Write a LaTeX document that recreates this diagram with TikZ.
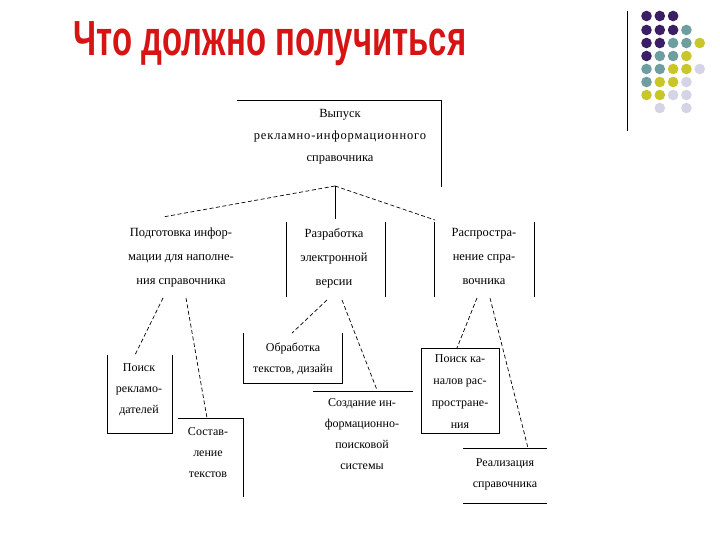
\documentclass[tikz,border=0pt]{standalone}
\usepackage{fontspec}
\setmainfont{Liberation Serif}
\newfontfamily\titlefont{Liberation Sans}
\newfontfamily\widefont[LetterSpace=7]{Liberation Serif}
\definecolor{dpurple}{RGB}{60,30,100}
\definecolor{dteal}{RGB}{110,158,160}
\definecolor{dyellow}{RGB}{200,198,40}
\definecolor{dlight}{RGB}{212,212,230}
\definecolor{titlered}{RGB}{215,20,20}
\tikzset{
  ln/.style={line width=0.8pt,black},
  dsh/.style={line width=0.7pt,black,dash pattern=on 4pt off 2.5pt},
  txt/.style={anchor=north,inner sep=0pt,align=center,font=\fontsize{12.5}{22}\selectfont},
  txtm/.style={txt,font=\fontsize{12.5}{24}\selectfont},
  txts/.style={txt,font=\fontsize{12}{21}\selectfont}
}
\begin{document}
\begin{tikzpicture}[x=1pt,y=-1pt]
\useasboundingbox (0,0) rectangle (720,540);
\fill[white] (0,0) rectangle (720,540);
% title
\node[inner sep=0pt,text=titlered] (title) at (270,44)
  {\scalebox{0.70}[1.05]{\titlefont\bfseries\fontsize{47}{47}\selectfont Что должно получиться}};
% decoration
\draw[line width=1pt] (627,11) coordinate (vt) -- (627,131) coordinate (vb);
\foreach \y/\lst in {16/{0/dpurple,1/dpurple,2/dpurple},
                     30/{0/dpurple,1/dpurple,2/dpurple,3/dteal},
                     43/{0/dpurple,1/dpurple,2/dteal,3/dteal,4/dyellow},
                     56/{0/dpurple,1/dteal,2/dteal,3/dyellow},
                     69/{0/dteal,1/dteal,2/dyellow,3/dyellow,4/dlight},
                     82/{0/dteal,1/dyellow,2/dyellow,3/dlight},
                     95/{0/dyellow,1/dyellow,2/dlight,3/dlight},
                     108/{1/dlight,3/dlight}}{
  \foreach \i/\c in \lst { \fill[\c] ({646.5+13.3*\i},\y) circle (5.3); }
}
% root
\node[txt] (root) at (340,109) {Выпуск\\{\widefont рекламно-информационного}\\справочника};
\draw[ln] (237,100) -- (441,100) -- (441,187);
\coordinate (rb) at (335,186);
% level 1
\node[txtm] (n1) at (181,228) {Подготовка инфор-\\мации для наполне-\\ния справочника};
\node[txtm] (n2) at (334,228) {Разработка\\электронной\\версии};
\node[txtm] (n3) at (484,228) {Распростра-\\нение спра-\\вочника};
\coordinate (c1) at (163,217);
\coordinate (c2) at (335,219);
\coordinate (c3) at (435,220);
\draw[dsh] (rb) -- (c1);
\draw[ln] (rb) -- (c2);
\draw[dsh] (rb) -- (c3);
\draw[ln] (286,222) -- (286,297);
\draw[ln] (385,222) -- (385,297);
\draw[ln] (434,222) -- (434,297);
\draw[ln] (534,222) -- (534,297);
% level 2 under n1
\coordinate (a1) at (163,298);
\coordinate (a2) at (186,298);
\coordinate (p1) at (135,355);
\coordinate (p2) at (207,418);
\draw[dsh] (a1) -- (p1);
\draw[dsh] (a2) -- (p2);
\draw[ln] (107,355) -- (107,433) -- (172,433) -- (172,355);
\node[txts] (m1) at (139,363) {Поиск\\рекламо-\\дателей};
\draw[ln] (178,418) -- (243,418) -- (243,497);
\node[txts] (m2) at (208,427) {Состав-\\ление\\текстов};
% under n2
\coordinate (b1) at (327,300);
\coordinate (b2) at (342,300);
\coordinate (q1) at (292,333);
\coordinate (q2) at (377,390);
\draw[dsh] (b1) -- (q1);
\draw[dsh] (b2) -- (q2);
\draw[ln] (243,333) -- (243,383) -- (342,383) -- (342,333);
\node[txts] (m3) at (293,343) {Обработка\\текстов, дизайн};
\draw[ln] (313,391) -- (413,391);
\node[txts] (m4) at (362,398) {Создание ин-\\формационно-\\поисковой\\системы};
% under n3
\coordinate (d1) at (477,298);
\coordinate (d2) at (490,298);
\coordinate (r1) at (457,348);
\coordinate (r2) at (528,448);
\draw[dsh] (d1) -- (r1);
\draw[dsh] (d2) -- (r2);
\draw[ln] (421,348) rectangle (499,433);
\node[txts,font=\fontsize{12}{22}\selectfont] (m5) at (460,354) {Поиск ка-\\налов рас-\\простране-\\ния};
\draw[ln] (463,448) -- (547,448);
\draw[ln] (463,503) -- (547,503);
\node[txts] (m6) at (505,458) {Реализация\\справочника};
\end{tikzpicture}
\end{document}
